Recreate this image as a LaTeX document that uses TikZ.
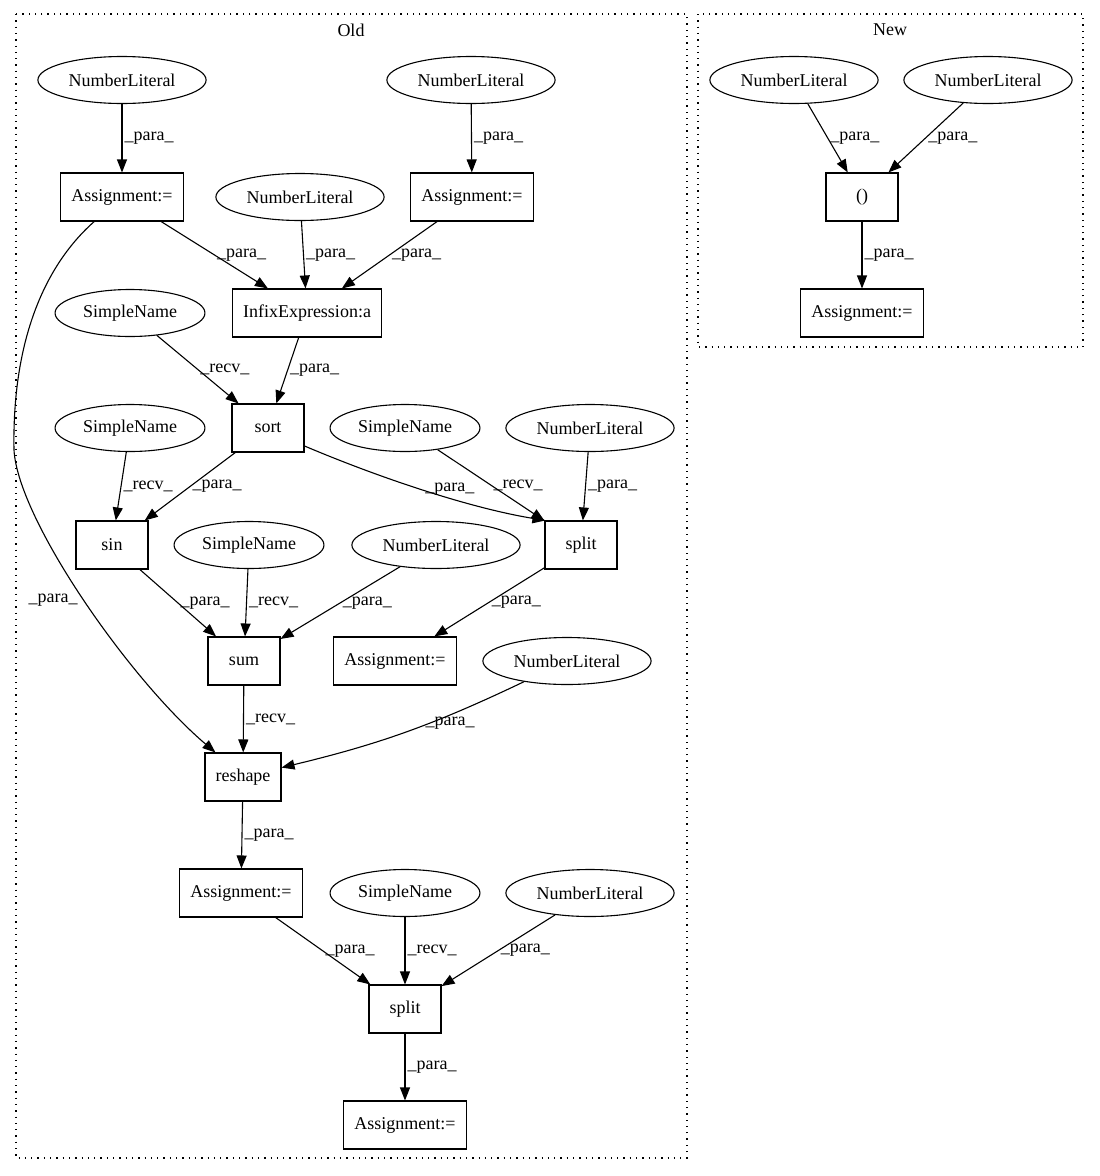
\documentclass[tikz,border=0pt]{standalone}
\usepackage{fontspec}
\setmainfont{Liberation Serif}
\usepackage{tikz}
\usetikzlibrary{shapes.geometric, arrows.meta, calc}

\begin{document}
\begin{tikzpicture}[x=1pt, y=-1pt, font=\fontsize{18}{20}\selectfont, line width=1.1pt,
 lit/.style={ellipse, draw, inner xsep=6pt, inner ysep=0pt, minimum height=47pt},
 op/.style={rectangle, draw, inner xsep=10.5pt, minimum width=72pt, minimum height=48pt},
 flow/.style={-{Triangle[length=13pt,width=10pt]}},
 lbl/.style={inner sep=2pt},
 cluster/.style={draw, line width=1.3pt, dash pattern=on 1.3pt off 5pt}]
\useasboundingbox (0,0) rectangle (1100,1176);

% clusters
\draw[cluster] (16,14) rectangle (687,1158);
\node (oldlbl) at (351,30) {Old};
\draw[cluster] (698,14) rectangle (1083,347);
\node (newlbl) at (890,30) {New};

% old
\node[lit] (nlA) at (122,80) {NumberLiteral};
\node[lit] (nlB) at (471,80) {NumberLiteral};
\node[op] (asgA) at (122,197) {Assignment:=};
\node[op] (asgB) at (472,197) {Assignment:=};
\node[lit] (nlC) at (300,197) {NumberLiteral};
\node[op] (infix) at (307,313) {InfixExpression:a};
\node[lit] (snA) at (130,313) {SimpleName};
\node[op] (sort) at (268,428) {sort};
\node[lit] (snB) at (130,428) {SimpleName};
\node[lit] (snC) at (405,428) {SimpleName};
\node[lit] (nlD) at (590,428) {NumberLiteral};
\node[op] (sin) at (112,545) {sin};
\node[op] (split) at (581,545) {split};
\node[lit] (snD) at (249,545) {SimpleName};
\node[lit] (nlE) at (436,545) {NumberLiteral};
\node[op] (sum) at (244,661) {sum};
\node[op] (asgC) at (395,661) {Assignment:=};
\node[lit] (nlF) at (567,661) {NumberLiteral};
\node[op] (reshape) at (243,777) {reshape};
\node[op] (asgD) at (241,893) {Assignment:=};
\node[lit] (snE) at (405,893) {SimpleName};
\node[lit] (nlG) at (590,893) {NumberLiteral};
\node[op] (splitB) at (405,1009) {split};
\node[op] (asgE) at (405,1125) {Assignment:=};

% new
\node[lit] (nlH) at (794,80) {NumberLiteral};
\node[lit] (nlI) at (988,80) {NumberLiteral};
\node[op] (paren) at (862,197) {()};
\node[op] (asgF) at (862,313) {Assignment:=};

\foreach \a/\b in {nlA/asgA,nlB/asgB,asgA/infix,nlC/infix,asgB/infix,infix/sort,sort/sin,nlD/split,
  sin/sum,nlE/sum,split/asgC,reshape/asgD,asgD/splitB,nlG/splitB,splitB/asgE,nlH/paren,nlI/paren,paren/asgF}
  {\draw[flow] (\a) -- node[lbl, right]{\_para\_} (\b);}
\foreach \a/\b in {snA/sort,snB/sin,snC/split,snD/sum,sum/reshape,snE/splitB}
  {\draw[flow] (\a) -- node[lbl, right]{\_recv\_} (\b);}

\draw[flow] (asgA) .. controls (45,265) and (12,340) .. (14,450) .. controls (18,520) and (130,680) .. ([xshift=11pt]reshape.north west) node[lbl, pos=.5, left=4pt]{\_para\_};
\draw[flow] ([yshift=-18pt]sort.east) .. controls (380,478) and (470,508) .. ([xshift=1pt]split.north west) node[lbl, pos=.6, above]{\_para\_};
\draw[flow] (nlF) to[bend left=6] node[lbl, pos=.3, below]{\_para\_} (reshape);

\end{tikzpicture}
\end{document}
